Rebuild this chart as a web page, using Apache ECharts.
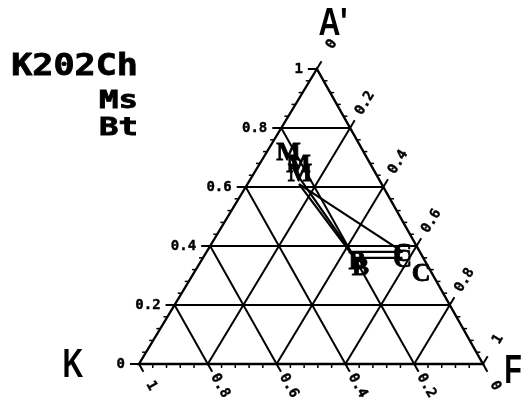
<!DOCTYPE html>
<html>
<head>
<meta charset="utf-8">
<script src="https://cdn.jsdelivr.net/npm/echarts@6/dist/echarts.min.js"></script>
<style>
  html, body { margin: 0; padding: 0; background: #fff; }
  #chart { width: 531px; height: 405px; }
</style>
</head>
<body>
<div id="chart"></div>
<script>
// AKF ternary diagram of sample K202: chlorite, muscovite and biotite analyses joined by tie lines

const sampleName = 'K202';
const mineralNames = ['Ch', 'Ms', 'Bt'];
const markerLetters = { Ch: 'C', Ms: 'M', Bt: 'B' };

// Compositions as A', K, F fractions
const chA = [0.38, 0.36, 0.31];
const chK = [0.05, 0.06, 0.03];
const chF = [0.57, 0.58, 0.66];

const msA = [0.68, 0.64, 0.61];
const msK = [0.24, 0.23, 0.24];
const msF = [0.08, 0.13, 0.15];

const btA = [0.38, 0.36];
const btK = [0.20, 0.20];
const btF = [0.42, 0.44];

// Tie lines: [mineral, analysis, mineral, analysis]
const tieLines = [
  ['Ms', 1, 'Bt', 0],
  ['Ms', 2, 'Bt', 1],
  ['Ms', 2, 'Ch', 0],
  ['Bt', 0, 'Ch', 0],
  ['Bt', 1, 'Ch', 1]
];

// Edge scales
const majorTicks = [0, 0.2, 0.4, 0.6, 0.8, 1];
const majorTickLabels = ['0', '0.2', '0.4', '0.6', '0.8', '1'];
const minorStep = 0.04;
const vertexLabels = { A: "A'", K: 'K', F: 'F' };

// Horizontal position of the A' apex along the K–F base (0.5 = centred)
const APEX_SHIFT = 0.517;

// ternary (A', F) -> plane coordinates on the value axes
function toXY(a, f) { return [f + APEX_SHIFT * a, a]; }

const minerals = {
  Ch: { A: chA, K: chK, F: chF },
  Ms: { A: msA, K: msK, F: msF },
  Bt: { A: btA, K: btK, F: btF }
};

function pointOf(name, i) {
  const m = minerals[name];
  const s = m.A[i] + m.K[i] + m.F[i];
  return toXY(m.A[i] / s, m.F[i] / s);
}

// every tick on the three edges: [edge, value, major index or -1]
const tickData = [];
const nSteps = Math.round(1 / minorStep);
for (let ai = 0; ai < 3; ai++) {
  for (let i = 0; i <= nSteps; i++) {
    const t = i * minorStep;
    const major = majorTicks.findIndex(m => Math.abs(m - t) < 1e-6);
    tickData.push([ai, +t.toFixed(4), major]);
  }
}

const INK = '#000';
const tickFont = 'bold 14px "DejaVu Sans Mono", monospace';
const GRID_W = 2;

function unit(p, q) {
  const dx = q[0] - p[0], dy = q[1] - p[1];
  const l = Math.hypot(dx, dy);
  return [dx / l, dy / l];
}

function renderTick(params, api) {
  const ai = api.value(0), t = api.value(1), major = api.value(2);
  const apex = api.coord(toXY(1, 0));
  const kV = api.coord(toXY(0, 0));
  const fV = api.coord(toXY(0, 1));
  let edge, far, out, minorDir;
  if (ai === 0) {          // A' along the left edge
    edge = api.coord(toXY(t, 0)); far = api.coord(toXY(t, 1 - t));
    out = [-1, 0]; minorDir = [-1, 0];
  } else if (ai === 1) {   // F along the right edge
    edge = api.coord(toXY(1 - t, t)); far = api.coord(toXY(0, t));
    out = unit(kV, apex); minorDir = [1, 0];
  } else {                 // K along the base
    edge = api.coord(toXY(0, 1 - t)); far = api.coord(toXY(1 - t, 0));
    out = unit(apex, fV); minorDir = [0, 1];
  }
  const children = [];
  if (major < 0) {
    children.push({
      type: 'line',
      shape: { x1: edge[0], y1: edge[1], x2: edge[0] + minorDir[0] * 4, y2: edge[1] + minorDir[1] * 4 },
      style: { stroke: INK, lineWidth: 1.5 }
    });
  } else {
    children.push({
      type: 'line',
      shape: { x1: edge[0], y1: edge[1], x2: edge[0] + out[0] * 9, y2: edge[1] + out[1] * 9 },
      style: { stroke: INK, lineWidth: GRID_W }
    });
    if (t > 0 && t < 1) {
      children.push({
        type: 'line',
        shape: { x1: edge[0], y1: edge[1], x2: far[0], y2: far[1] },
        style: { stroke: INK, lineWidth: GRID_W }
      });
    }
    let lx, ly, rot, align;
    if (ai === 0) {
      lx = edge[0] - 14; ly = edge[1]; rot = 0; align = 'right';
    } else {
      const d = ai === 1 ? 29 : 25;
      lx = edge[0] + out[0] * d; ly = edge[1] + out[1] * d;
      rot = Math.atan2(-out[1], out[0]); align = 'center';
    }
    children.push({
      type: 'text', x: lx, y: ly, rotation: rot,
      style: { text: majorTickLabels[major], fill: INK, stroke: INK, lineWidth: 0.4, font: tickFont, align: align, verticalAlign: 'middle' }
    });
  }
  return { type: 'group', children: children };
}

function renderFrame(params, api) {
  const a = api.coord(toXY(1, 0)), k = api.coord(toXY(0, 0)), f = api.coord(toXY(0, 1));
  return {
    type: 'polygon',
    shape: { points: [a, k, f] },
    style: { fill: 'none', stroke: INK, lineWidth: 2.4, lineJoin: 'miter' }
  };
}

function renderTie(params, api) {
  const p = api.coord([api.value(0), api.value(1)]);
  const q = api.coord([api.value(2), api.value(3)]);
  return {
    type: 'line',
    shape: { x1: p[0], y1: p[1], x2: q[0], y2: q[1] },
    style: { stroke: INK, lineWidth: 2.2 }
  };
}

function markerRenderer(letter, dx, dy) {
  return function (params, api) {
    const p = api.coord([api.value(0), api.value(1)]);
    return {
      type: 'text', x: p[0] + dx, y: p[1] + dy,
      style: { text: letter, fill: INK, stroke: INK, lineWidth: 0.8, font: 'bold 26px "Liberation Serif", serif', align: 'center', verticalAlign: 'middle' }
    };
  };
}

const tieData = tieLines.map(([m1, i1, m2, i2]) => pointOf(m1, i1).concat(pointOf(m2, i2)));
const markerOffsets = { Ch: [0, 2], Ms: [1, -10], Bt: [6, 10] };

const mineralSeries = mineralNames.map(name => ({
  name: name,
  type: 'custom',
  clip: false,
  renderItem: markerRenderer(markerLetters[name], markerOffsets[name][0], markerOffsets[name][1]),
  encode: { x: 0, y: 1 },
  data: minerals[name].A.map((_, i) => pointOf(name, i)),
  z: 5
}));

const titleFont = size => 'bold ' + size + 'px "DejaVu Sans Mono", monospace';
const vertexFont = 'bold 40px "Liberation Sans", sans-serif';

const chart = echarts.init(document.getElementById('chart'));
chart.setOption({
  animation: false,
  backgroundColor: '#fff',
  grid: { left: 139, top: 69, width: 344, height: 295 },
  xAxis: { type: 'value', min: 0, max: 1, show: false },
  yAxis: { type: 'value', min: 0, max: 1, show: false },
  graphic: [
    { type: 'text', x: 138, y: 67, scaleX: 1.17,
      style: { text: sampleName + mineralNames[0], font: titleFont(30), fill: INK, stroke: INK, lineWidth: 0.8, align: 'right', verticalAlign: 'middle' } },
    { type: 'text', x: 138, y: 102, scaleX: 1.35,
      style: { text: mineralNames[1], font: titleFont(24), fill: INK, stroke: INK, lineWidth: 0.8, align: 'right', verticalAlign: 'middle' } },
    { type: 'text', x: 138, y: 129, scaleX: 1.35,
      style: { text: mineralNames[2], font: titleFont(24), fill: INK, stroke: INK, lineWidth: 0.8, align: 'right', verticalAlign: 'middle' } },
    { type: 'text', x: 333, y: 25, scaleX: 0.8,
      style: { text: vertexLabels.A, font: 'bold 38px "Liberation Sans", sans-serif', fill: INK, align: 'center', verticalAlign: 'middle' } },
    { type: 'text', x: 73, y: 366, scaleX: 0.72,
      style: { text: vertexLabels.K, font: vertexFont, fill: INK, align: 'center', verticalAlign: 'middle' } },
    { type: 'text', x: 513, y: 372, scaleX: 0.72,
      style: { text: vertexLabels.F, font: vertexFont, fill: INK, align: 'center', verticalAlign: 'middle' } }
  ],
  series: [
    { type: 'custom', name: 'frame', clip: false, renderItem: renderFrame, data: [[0, 0]], encode: { x: 0, y: 1 }, silent: true },
    { type: 'custom', name: 'ticks', clip: false, renderItem: renderTick, data: tickData, encode: { x: -1, y: -1 }, silent: true },
    { type: 'custom', name: 'tie lines', clip: false, renderItem: renderTie, data: tieData, encode: { x: [0, 2], y: [1, 3] }, z: 4 }
  ].concat(mineralSeries)
});
</script>
</body>
</html>
